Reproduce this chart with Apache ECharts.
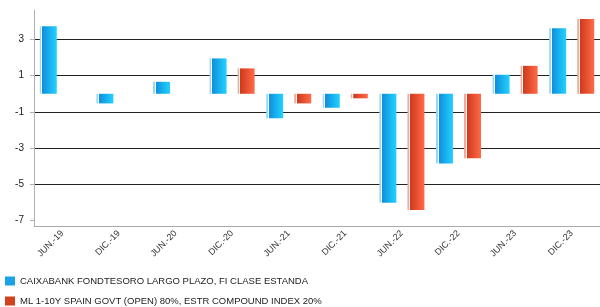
<!DOCTYPE html>
<html>
<head>
<meta charset="utf-8">
<script src="https://cdn.jsdelivr.net/npm/echarts@6/dist/echarts.min.js"></script>
<style>
  html, body { margin: 0; padding: 0; background: #fff; }
  #chart { width: 600px; height: 307px; }
</style>
</head>
<body>
<div id="chart"></div>
<script>
const categories = ["JUN.-19", "DIC.-19", "JUN.-20", "DIC.-20", "JUN.-21", "DIC.-21", "JUN.-22", "DIC.-22", "JUN.-23", "DIC.-23"];
const fundName = "CAIXABANK FONDTESORO LARGO PLAZO, FI CLASE ESTANDA";
const benchName = "ML 1-10Y SPAIN GOVT (OPEN) 80%, ESTR COMPOUND INDEX 20%";
const fundValues = [3.73, -0.53, 0.66, 1.95, -1.35, -0.77, -6.01, -3.84, 1.05, 3.62];
const benchValues = [null, null, null, 1.4, -0.53, -0.25, -6.41, -3.56, 1.54, 4.12];
const yTicks = [-7, -5, -3, -1, 1, 3];

function barGradient(stripe, dark, light) {
  return new echarts.graphic.LinearGradient(0, 0, 1, 0, [
    { offset: 0, color: stripe },
    { offset: 0.09, color: stripe },
    { offset: 0.1, color: "#ffffff" },
    { offset: 0.15, color: "#ffffff" },
    { offset: 0.16, color: dark },
    { offset: 1, color: light }
  ]);
}

function legendRow(name, color, top) {
  return {
    left: 5,
    top: top,
    padding: 0,
    itemWidth: 10,
    itemHeight: 9,
    icon: "rect",
    textStyle: { fontSize: 9.5, color: "#222", fontFamily: "Liberation Sans" },
    data: [{ name: name, itemStyle: { color: color } }]
  };
}

const chart = echarts.init(document.getElementById("chart"));
const option = {
  animation: false,
  grid: { left: 34, right: -14, top: 10, bottom: 81 },
  legend: [
    legendRow(fundName, "#1aa2e6", 276),
    legendRow(benchName, "#d2421f", 296)
  ],
  xAxis: {
    type: "category",
    data: categories,
    axisLine: { onZero: false, lineStyle: { color: "#aaaaaa", width: 1 } },
    axisTick: { alignWithLabel: true, length: 4, lineStyle: { color: "#aaaaaa" } },
    axisLabel: {
      rotate: 45,
      fontSize: 9,
      color: "#333",
      fontFamily: "Liberation Sans",
      margin: 6,
      interval: 0
    }
  },
  yAxis: {
    type: "value",
    min: -7.29,
    max: 4.62,
    axisLine: { show: true, lineStyle: { color: "#b0b0b0" } },
    axisTick: {
      show: true,
      length: 4,
      customValues: yTicks,
      lineStyle: { color: "#b0b0b0" }
    },
    axisLabel: {
      customValues: yTicks,
      fontSize: 10,
      color: "#222",
      fontFamily: "Liberation Sans",
      margin: 10
    },
    splitLine: {
      show: true,
      showMinLine: false,
      lineStyle: { color: "#222", width: 1 }
    }
  },
  series: [
    {
      name: fundName,
      type: "bar",
      barWidth: 17,
      barGap: "65%",
      itemStyle: { color: barGradient("#9ad8f5", "#0f8fdc", "#22d2ff") },
      data: fundValues
    },
    {
      name: benchName,
      type: "bar",
      barWidth: 17,
      itemStyle: { color: barGradient("#f2aa9a", "#d03a1c", "#ff6a48") },
      data: benchValues
    }
  ]
};
chart.setOption(option);
</script>
</body>
</html>
